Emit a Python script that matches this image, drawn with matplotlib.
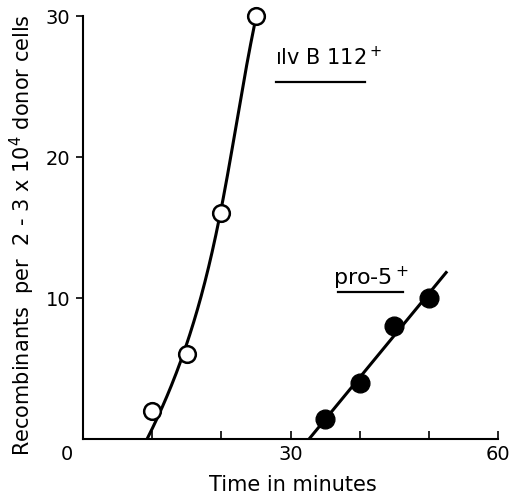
import numpy as np
import matplotlib
matplotlib.use("Agg")
import matplotlib.pyplot as plt
import matplotlib.transforms as mtransforms

# measured points
ilv_x = [10, 15, 20, 25]
ilv_y = [2, 6, 16, 30]
pro_x = [35, 40, 45, 50]
pro_y = [1.4, 4, 8, 10]

# points
ilv_curve_x = [9.2, 12.0, 15.0, 17.2, 19.8, 22.6, 25.0]
ilv_curve_y = [0, 3.0, 6.1, 11.0, 16.0, 23.1, 30.0]
pro_line_end = 52.5

plt.rcParams['font.family'] = ['DejaVu Sans']

fig = plt.figure(figsize=(5.13, 4.97), dpi=100)
ax = fig.add_axes([0.1618, 0.1167, 0.809, 0.851])

# ilv curve: smooth cubic x(y) through the points
c3 = np.polyfit(ilv_curve_y, ilv_curve_x, 3)
ys = np.linspace(ilv_curve_y[0], ilv_curve_y[-1], 200)
ax.plot(np.polyval(c3, ys), ys, color='black', lw=2.2, zorder=2)

# pro line: least squares fit of the points
c1 = np.polyfit(pro_x, pro_y, 1)
x0 = -c1[1] / c1[0]
xl = np.array([x0, pro_line_end])
ax.plot(xl, np.polyval(c1, xl), color='black', lw=2.2, zorder=2)

ax.plot(ilv_x, ilv_y, 'o', ms=12, mfc='white', mec='black', mew=1.8, zorder=3, clip_on=False)
ax.plot(pro_x, pro_y, 'o', ms=13.5, mfc='black', mec='black', zorder=3, clip_on=False)

ax.set_xlim(0, 60)
ax.set_ylim(0, 30)
ax.spines['top'].set_visible(False)
ax.spines['right'].set_visible(False)
ax.spines['left'].set_linewidth(1.5)
ax.spines['bottom'].set_linewidth(1.5)

ax.set_xticks(range(0, 61, 10))
ax.set_xticklabels(['0', '', '', '30', '', '', '60'])
ax.set_yticks([10, 20, 30])
ax.set_yticklabels(['10', '20', '30'])
ax.tick_params(axis='x', direction='in', length=6, width=1.2, labelsize=14, pad=4)
ax.tick_params(axis='y', direction='out', length=5, width=1.2, labelsize=14, pad=4)

# the origin "0" sits left of the corner
lab0 = ax.get_xticklabels()[0]
lab0.set_transform(lab0.get_transform() + mtransforms.ScaledTranslation(-16 / 100, 0, fig.dpi_scale_trans))

ax.set_xlabel('Time in minutes', fontsize=15)
ax.xaxis.set_label_coords(0.506, -0.085)
ax.set_ylabel('Recombinants  per  2 - 3 x 10$^4$ donor cells', fontsize=15)
ax.yaxis.set_label_coords(-0.111, 0.482)

ax.text(27.8, 26.5, 'ılv B 112$^+$', fontsize=15)
ax.plot([27.9, 40.8], [25.3, 25.3], color='black', lw=1.6, clip_on=False)
ax.text(36.2, 10.9, 'pro-5$^+$', fontsize=16)
ax.plot([36.9, 46.3], [10.4, 10.4], color='black', lw=1.6, clip_on=False)

fig.savefig('out.png', dpi=100)
